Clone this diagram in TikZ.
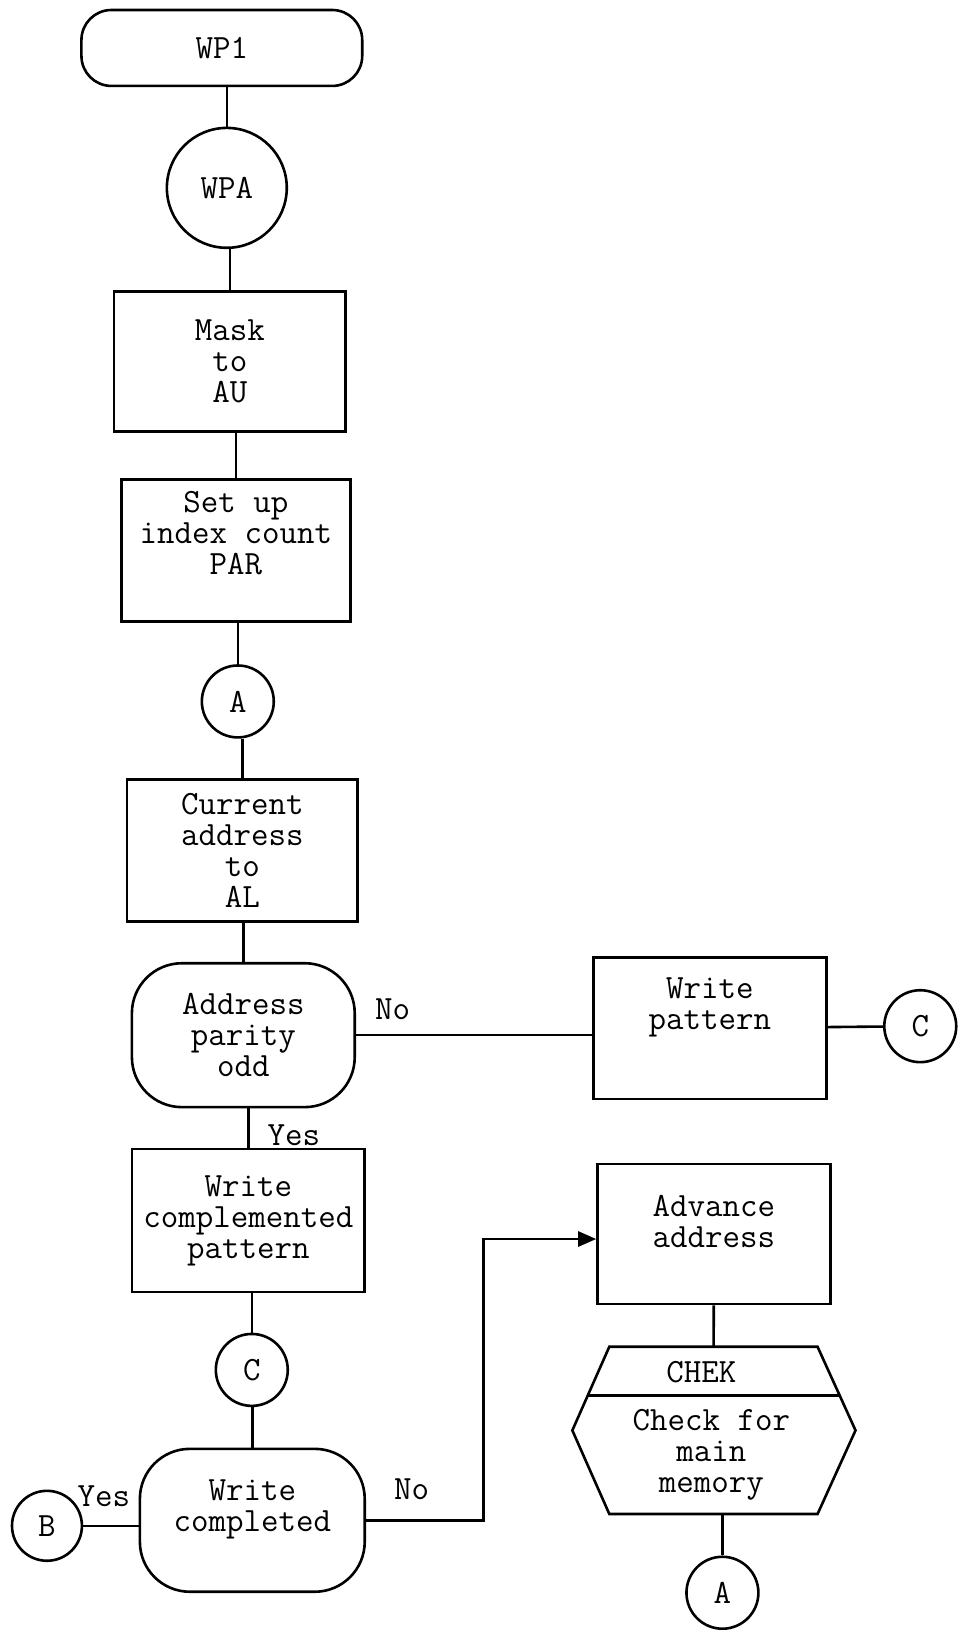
\documentclass[tikz,border=0pt]{standalone}
\usepackage{fontspec}
\usetikzlibrary{arrows.meta,calc}

\begin{document}
\begin{tikzpicture}[x=1pt, y=-1pt,
    font=\fontsize{34}{31}\ttfamily,
    flowline/.style={line width=2.6pt},
    procbox/.style={draw, flowline, rectangle, align=center, inner sep=2pt},
    roundbox/.style={procbox, rounded corners=50pt},
    joint/.style={draw, flowline, circle, inner sep=0pt},
    hexframe/.style={rectangle, inner sep=0pt, minimum width=208pt, minimum height=167pt},
    flowarrow/.style={flowline, -{Triangle[length=18pt,width=15pt]}}]

    \path[fill=white] (0,0) rectangle (948,1630);

    \node (wp1) [procbox, rounded corners=30pt, minimum width=281pt, minimum height=76pt] at (222,48) {WP1};

    \node (wpa) [joint, minimum size=120pt] at (227,188) {WPA};

    \node (mask) [procbox, minimum width=232pt, minimum height=140pt] at (230,362) {Mask\\to\\AU};

    \node (setup) [procbox, minimum width=229pt, minimum height=142pt, text depth=36pt] at (236,551) {Set up\\index count\\PAR};

    \node (acon) [joint, minimum size=72pt] at (238,702) {A};

    \node (curaddr) [procbox, minimum width=231pt, minimum height=142pt] at (242.5,851) {Current\\address\\to\\AL};

    \node (parity) [roundbox, minimum width=223pt, minimum height=144pt] at (243.5,1036) {Address\\parity\\odd};

    \node (wpat) [procbox, minimum width=233pt, minimum height=142pt, text depth=50pt] at (710.5,1029) {Write\\pattern};

    \node (cright) [joint, minimum size=72pt] at (921,1027) {C};

    \node (wcpl) [procbox, minimum width=233pt, minimum height=143pt] at (248.5,1221.5) {Write\\complemented\\pattern};

    \node (clow) [joint, minimum size=72pt] at (252,1371) {C};

    \node (wcomp) [roundbox, minimum width=225pt, minimum height=143pt, text depth=30pt] at (252.5,1521.5) {Write\\completed};

    \node (bcon) [joint, minimum size=70pt] at (47,1527) {B};

    \node (adv) [procbox, minimum width=233pt, minimum height=140pt, text depth=26pt] at (714.5,1235) {Advance\\address};

    \node (chk) [hexframe] at (714,1431.5) {};

    \node (chklbl) at (702,1373) {CHEK};

    \node (chktxt) [align=center] at (712,1456) {Check for\\main\\memory};

    \node (aend) [joint, minimum size=72pt] at (723,1594) {A};

    \coordinate (nobend) at (484,1240);

    \node (no1) at (393,1010) {No};

    \node (yes1) at (294,1136) {Yes};

    \node (no2) at (412,1490) {No};

    \node (yes2) at (104,1497) {Yes};

    \draw[flowline] (wpa) -- (wpa |- wp1.south);

    \draw[flowline] (mask) -- (mask |- wpa.south);

    \draw[flowline] (setup) -- (setup |- mask.south);

    \draw[flowline] (acon) -- (acon |- setup.south);

    \draw[flowline] (curaddr) -- (curaddr |- acon.south);

    \draw[flowline] (parity) -- (parity |- curaddr.south);

    \draw[flowline] (wcpl) -- (wcpl |- parity.south);

    \draw[flowline] (clow) -- (clow |- wcpl.south);

    \draw[flowline] (wcomp) -- (wcomp |- clow.south);

    \draw[flowline] (parity) -- (parity -| wpat.west);

    \draw[flowline] (wpat) -- (cright);

    \draw[flowline] (bcon) -- (bcon -| wcomp.west);

    \draw[flowarrow] (wcomp) -| (nobend) -- (nobend -| adv.west);

    \draw[flowline] (adv) -- (chk);

    \draw[flowline] (aend) -- (aend |- chk.south);

    \draw[flowline] (chk.north west) -- (chk.north east) -- ([xshift=38pt]chk.east) -- (chk.south east) -- (chk.south west) -- ([xshift=-37pt]chk.west) -- cycle;

    \draw[flowline] ($(chk.north west)!0.58!([xshift=-37pt]chk.west)$) -- ($(chk.north east)!0.58!([xshift=38pt]chk.east)$);

\end{tikzpicture}
\end{document}
